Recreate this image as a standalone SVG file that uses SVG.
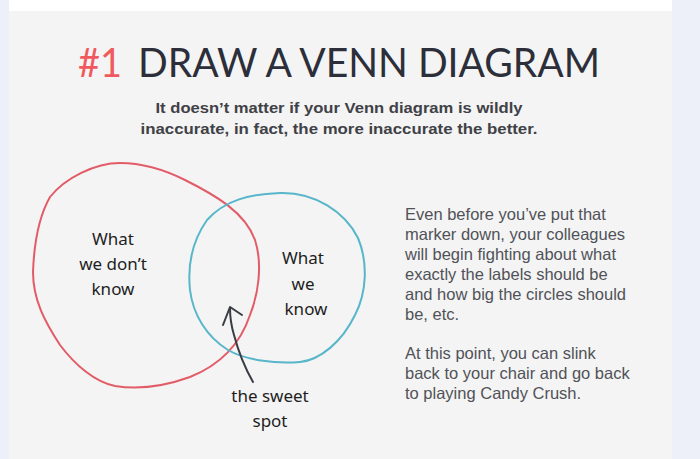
<svg xmlns="http://www.w3.org/2000/svg" width="700" height="459" viewBox="0 0 700 459">
<style>
.hand{font-family:"Noto Sans","DejaVu Sans",sans-serif;font-size:17px;fill:#1e1e1e;text-anchor:middle}
.body{font-family:"Liberation Sans",Arial,sans-serif;font-size:16.5px;fill:#505258}
.sub{font-family:"Liberation Sans",Arial,sans-serif;font-size:15px;font-weight:bold;fill:#404146;text-anchor:middle}
.title{font-family:"Lato","Inter",sans-serif;font-size:41px}
</style>
<rect x="0" y="0" width="700" height="459" fill="#edf0f9"/>
<rect x="9" y="0" width="663" height="459" fill="#f4f4f4"/>
<rect x="9" y="0" width="663" height="11" fill="#ffffff"/>
<g id="title">
<text x="78" y="77" class="title" fill="#f05a5e" textLength="44" lengthAdjust="spacingAndGlyphs">#1</text>
<text x="138" y="77" class="title" fill="#2c2e39" textLength="462" lengthAdjust="spacingAndGlyphs">DRAW A VENN DIAGRAM</text>
</g>
<g id="subtitle">
<text x="339" y="113" class="sub" textLength="367" lengthAdjust="spacingAndGlyphs">It doesn’t matter if your Venn diagram is wildly</text>
<text x="339" y="134" class="sub" textLength="397" lengthAdjust="spacingAndGlyphs">inaccurate, in fact, the more inaccurate the better.</text>
</g>
<g id="circle-dont-know">
<path d="M120,163 C145,163 165,170 185,180 C215,195 245,212 255,240 C263,265 258,295 250,315 C240,345 220,365 190,377 C165,386 140,390 115,386 C95,382 75,365 60,345 C45,322 33,300 33,272 C34,245 38,218 50,197 C65,178 95,163 120,163 Z" fill="none" stroke="#e25c68" stroke-width="2"/>
<text class="hand" x="113" y="245">What</text>
<text class="hand" x="113" y="270">we don’t</text>
<text class="hand" x="113" y="295">know</text>
</g>
<g id="circle-know">
<path d="M280,193 C315,192 345,212 358,238 C368,262 367,292 355,315 C342,342 320,360 300,362 C275,364 245,360 228,350 C207,337 193,315 190,290 C187,262 193,240 207,220 C225,200 250,194 280,193 Z" fill="none" stroke="#58b6ca" stroke-width="2"/>
<text class="hand" x="303" y="264">What</text>
<text class="hand" x="303" y="290">we</text>
<text class="hand" x="306" y="315">know</text>
</g>
<g id="connectors">
<path d="M253,382 C245,368 238,350 234,335 C231,325 230,315 230,308" fill="none" stroke="#3a3c44" stroke-width="2" stroke-linecap="round"/>
<path d="M223,325 L230,307 L242,315" fill="none" stroke="#3a3c44" stroke-width="2" stroke-linecap="round" stroke-linejoin="round"/>
</g>
<g id="sweet-spot">
<text class="hand" x="270" y="402">the sweet</text>
<text class="hand" x="270" y="427">spot</text>
</g>
<g id="description">
<text class="body" x="405" y="220">Even before you’ve put that</text>
<text class="body" x="405" y="240">marker down, your colleagues</text>
<text class="body" x="405" y="260">will begin fighting about what</text>
<text class="body" x="405" y="280">exactly the labels should be</text>
<text class="body" x="405" y="300">and how big the circles should</text>
<text class="body" x="405" y="320">be, etc.</text>
<text class="body" x="405" y="359">At this point, you can slink</text>
<text class="body" x="405" y="379">back to your chair and go back</text>
<text class="body" x="405" y="399">to playing Candy Crush.</text>
</g>
</svg>
